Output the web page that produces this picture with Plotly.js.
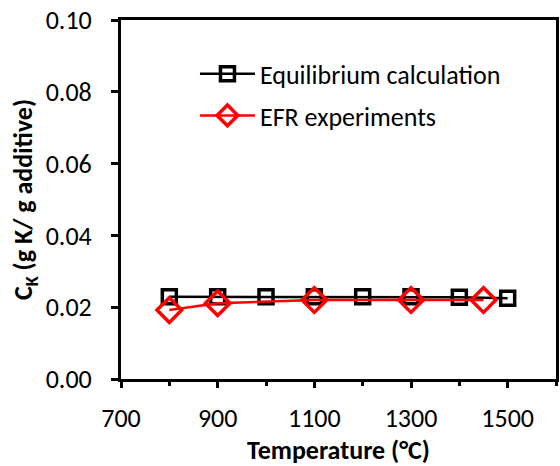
<!DOCTYPE html>
<html><head><meta charset="utf-8">
<script src="https://cdn.plot.ly/plotly-3.0.1.min.js"></script>
<style>body{margin:0;padding:0;background:#fff}#chart{width:560px;height:466px}</style>
</head><body><div id="chart"></div>
<script>
const eqTemp = [800, 900, 1000, 1100, 1200, 1300, 1400, 1500];
const eqCk = [0.0229, 0.0229, 0.0229, 0.0229, 0.0229, 0.0229, 0.0228, 0.0225];
const efrTemp = [800, 900, 1100, 1300, 1450];
const efrCk = [0.0192, 0.0211, 0.0220, 0.0220, 0.0220];
const xTicks = [700, 900, 1100, 1300, 1500];
const yTicks = [0, 0.02, 0.04, 0.06, 0.08, 0.10];

const font = "Carlito, Lato, sans-serif";
const traces = [
  {x: eqTemp, y: eqCk, name: 'Equilibrium calculation', mode: 'lines+markers', legend: 'legend',
   line: {color: '#000', width: 2.5},
   marker: {symbol: 'square-open', size: 14, color: '#000', line: {width: 3.5, color: '#000'}}},
  {x: efrTemp, y: efrCk, name: 'EFR experiments', mode: 'lines+markers', legend: 'legend2',
   line: {color: '#ff0000', width: 2.5},
   marker: {symbol: 'diamond-open', size: 19, color: '#ff0000', line: {width: 3.5, color: '#ff0000'}}}
];
const legFont = {family: font, size: 26, color: '#000'};
const layout = {
  width: 560, height: 466,
  margin: {l: 121, r: 4, t: 20, b: 87},
  paper_bgcolor: '#fff', plot_bgcolor: '#fff',
  font: {family: font, size: 26, color: '#000'},
  showlegend: true,
  legend: {x: 0.17, y: 0.85, xanchor: 'left', yanchor: 'middle', bgcolor: 'rgba(0,0,0,0)', font: legFont, itemwidth: 55},
  legend2: {x: 0.17, y: 0.734, xanchor: 'left', yanchor: 'middle', bgcolor: 'rgba(0,0,0,0)', font: legFont, itemwidth: 55},
  xaxis: {range: [700, 1600], tickvals: xTicks, ticktext: xTicks.map(String),
          showgrid: false, zeroline: false, showline: true, mirror: true, linecolor: '#000', linewidth: 3,
          ticks: 'outside', ticklen: 6, tickwidth: 3, tickcolor: '#000', ticklabelstandoff: 8,
          minor: {dtick: 100, tick0: 700, ticks: 'outside', ticklen: 4, tickwidth: 3, tickcolor: '#000', showgrid: false},
          tickfont: {family: font, size: 26},
          title: {text: '<b>Temperature (°C)</b>', font: {family: font, size: 26}, standoff: 0}},
  yaxis: {range: [0, 0.10], tickvals: yTicks, ticktext: yTicks.map(v => v.toFixed(2)),
          showgrid: false, zeroline: false, showline: true, mirror: true, linecolor: '#000', linewidth: 3,
          ticks: 'outside', ticklen: 7, tickwidth: 3, tickcolor: '#000', ticklabelstandoff: 14,
          tickfont: {family: font, size: 26},
          title: {text: '<b>C<sub>K</sub> (g K/ g additive)</b>', font: {family: font, size: 26}, standoff: 6}}
};
Plotly.newPlot('chart', traces, layout, {displayModeBar: false, staticPlot: true});
</script></body></html>
